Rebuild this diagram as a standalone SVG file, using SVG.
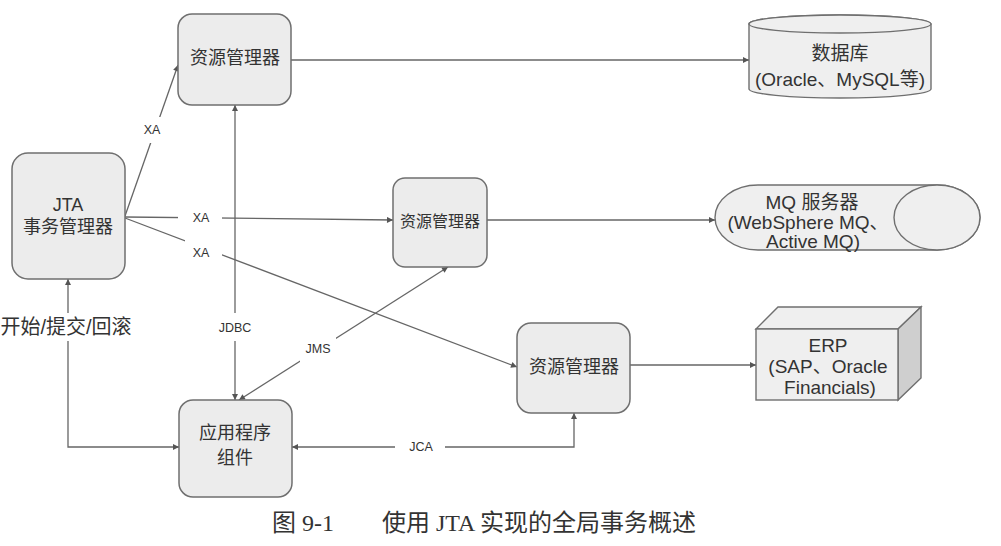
<svg xmlns="http://www.w3.org/2000/svg" width="1001" height="546" viewBox="0 0 1001 546">
<defs>
<style>
.box{fill:#ececec;stroke:#6f6f6f;stroke-width:1.5}
.shape{fill:#efefef;stroke:#6f6f6f;stroke-width:1.4}
.t{font-family:"Liberation Sans","Noto Sans CJK SC",sans-serif;font-size:18px;fill:#333;text-anchor:middle;dominant-baseline:central}
.t2{font-family:"Liberation Sans","Noto Sans CJK SC",sans-serif;font-size:19px;fill:#333;text-anchor:middle;dominant-baseline:central}
.lbl{font-family:"Liberation Sans","Noto Sans CJK SC",sans-serif;font-size:12.5px;fill:#333;text-anchor:middle;dominant-baseline:central}
.big{font-family:"Liberation Sans","Noto Sans CJK SC",sans-serif;font-size:20px;fill:#333;text-anchor:middle;dominant-baseline:central}
.cap{font-family:"Liberation Serif","Noto Sans CJK SC",serif;font-size:24px;fill:#333}
.ln{fill:none;stroke:#666;stroke-width:1.3}
.gap{fill:#fff;stroke:none}
</style>
<marker id="arr" viewBox="0 0 10 10" refX="10" refY="5" markerWidth="8" markerHeight="6" markerUnits="userSpaceOnUse" orient="auto-start-reverse">
<path d="M0,0 L10,5 L0,10 z" fill="#555"/>
</marker>
</defs>
<rect width="1001" height="546" fill="#fff"/>

<g id="connectors">
<line class="ln" x1="291" y1="60" x2="749" y2="60" marker-end="url(#arr)"/>
<line class="ln" x1="125" y1="216" x2="178" y2="65" marker-end="url(#arr)"/>
<line class="ln" x1="125" y1="217" x2="393" y2="220" marker-end="url(#arr)"/>
<line class="ln" x1="125" y1="218" x2="517" y2="367" marker-end="url(#arr)"/>
<line class="ln" x1="487" y1="220" x2="715" y2="220" marker-end="url(#arr)"/>
<line class="ln" x1="630" y1="365" x2="756" y2="365" marker-end="url(#arr)"/>
<line class="ln" x1="235" y1="105" x2="235" y2="400" marker-start="url(#arr)" marker-end="url(#arr)"/>
<line class="ln" x1="448" y1="267" x2="239" y2="400" marker-start="url(#arr)" marker-end="url(#arr)"/>
<polyline class="ln" points="574,413 574,447 292,447" marker-start="url(#arr)" marker-end="url(#arr)"/>
<polyline class="ln" points="68,279 68,447 179,447" marker-start="url(#arr)" marker-end="url(#arr)"/>
<rect class="gap" x="140" y="117" width="26" height="26"/>
<rect class="gap" x="178" y="209" width="44" height="18"/>
<rect class="gap" x="185" y="238" width="37" height="24"/>
<rect class="gap" x="215" y="313" width="40" height="28"/>
<rect class="gap" x="300" y="336" width="36" height="26"/>
<rect class="gap" x="395" y="438" width="50" height="18"/>
<rect class="gap" x="0" y="313" width="135" height="28"/>
<text class="lbl" x="152" y="130">XA</text>
<text class="lbl" x="201" y="218">XA</text>
<text class="lbl" x="201" y="253">XA</text>
<text class="lbl" x="235" y="328">JDBC</text>
<text class="lbl" x="318" y="349">JMS</text>
<text class="lbl" x="421" y="447">JCA</text>
<text class="big" x="66" y="327">开始/提交/回滚</text>
</g>

<g id="rm1">
<rect class="box" x="178" y="14" width="113" height="91" rx="14"/>
<text class="t" x="235" y="58">资源管理器</text>
</g>

<g id="jta">
<rect class="box" x="12" y="153" width="113" height="126" rx="16"/>
<text class="t" x="68" y="205">JTA</text>
<text class="t" x="68" y="227">事务管理器</text>
</g>

<g id="rm2">
<rect class="box" x="393" y="178" width="94" height="89" rx="12"/>
<text class="t" x="440" y="221" style="font-size:16px">资源管理器</text>
</g>

<g id="rm3">
<rect class="box" x="517" y="323" width="113" height="90" rx="14"/>
<text class="t" x="574" y="367">资源管理器</text>
</g>

<g id="app">
<rect class="box" x="179" y="400" width="113" height="97" rx="14"/>
<text class="t" x="235" y="433">应用程序</text>
<text class="t" x="235" y="458">组件</text>
</g>

<g id="db">
<path class="shape" d="M749,24 V89 A91,9 0 0 0 931,89 V24 A91,9 0 0 0 749,24 Z"/>
<ellipse class="shape" cx="840" cy="24" rx="91" ry="9"/>
<text class="t2" x="840" y="53">数据库</text>
<text class="t2" x="840" y="79">(Oracle、MySQL等)</text>
</g>

<g id="mq">
<path class="shape" d="M758,185 H937 A43,32.5 0 0 1 937,250 H758 A43,32.5 0 0 1 758,185 Z"/>
<ellipse class="shape" cx="937" cy="217.5" rx="43" ry="32.5"/>
<text class="t2" x="812" y="202">MQ 服务器</text>
<text class="t2" x="808" y="222">(WebSphere MQ、</text>
<text class="t2" x="813" y="241">Active MQ)</text>
</g>

<g id="erp">
<polygon class="shape" points="756,329 778,307 921,307 898,329"/>
<polygon points="898,329 921,307 921,378 898,400" fill="#cfcfcf" stroke="#6f6f6f" stroke-width="1.4"/>
<rect class="shape" x="756" y="329" width="142" height="71"/>
<text class="t2" x="828" y="345">ERP</text>
<text class="t2" x="828" y="366">(SAP、Oracle</text>
<text class="t2" x="830" y="387">Financials)</text>
</g>

<g id="caption">
<text class="cap" x="272" y="531">图 9-1</text>
<text class="cap" x="382" y="531">使用 JTA 实现的全局事务概述</text>
</g>
</svg>
